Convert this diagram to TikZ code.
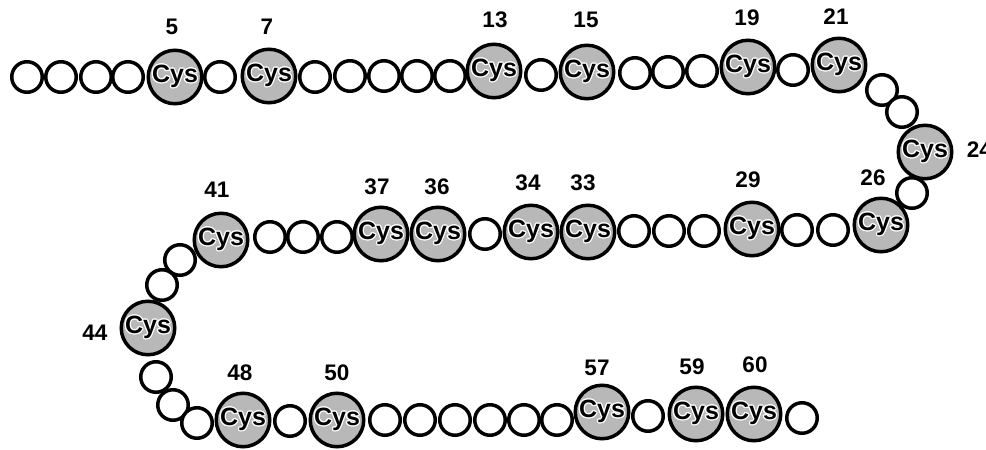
\documentclass[tikz,border=0pt]{standalone}
\usepackage{fontspec}
\setmainfont{Liberation Sans}
\usepackage{contour}
\contourlength{1.2pt}

\begin{document}
\begin{tikzpicture}[x=1pt, y=-1pt, line width=3.5pt,
    res/.style={circle, draw, fill=white, minimum size=30.5pt, inner sep=0pt},
    cys/.style={circle, draw, fill=black!28, minimum size=53.5pt, inner sep=0pt,
      font=\fontsize{25}{25}\selectfont\bfseries},
    num/.style={font=\fontsize{22.5}{22.5}\selectfont\bfseries, inner sep=0pt}]
  \useasboundingbox (0,0) rectangle (986,450);
  % plain residues
  \foreach \n/\x/\y in {1/27/77, 2/61/77, 3/96/77, 4/128/77, 6/220/77,
      8/315/77, 9/350/76, 10/384/76, 11/417/76, 12/450/76, 14/541/75,
      16/635/73, 17/668/72, 18/702/71, 20/793/70, 22/882/90, 23/902/112,
      25/912/193, 27/833/230, 28/797/230, 30/704/231, 31/669/231, 32/634/231,
      35/485/234, 38/337/237, 39/303/237, 40/270/237, 42/180/260, 43/162/285,
      45/156/377, 46/173/405, 47/197/423, 49/290/421, 51/385/420, 52/420/420,
      53/455/420, 54/490/420, 55/524/420, 56/557/420, 58/648/416, 61/802/418}
    \node[res] (r\n) at (\x,\y) {};
  % cysteines
  \foreach \n/\x/\y in {5/175/77, 7/269/76, 13/494/71, 15/587/72, 19/748/67,
      21/839/65, 24/925/152, 26/881/225, 29/752/229, 33/588/232, 34/531/232,
      36/438/234, 37/381/234, 41/221/240, 44/148/328, 48/243/420, 50/337/420,
      57/602/412, 59/696/414, 60/754/414}
    \node[cys] (r\n) at (\x,\y) {\contour{white}{Cys}};
  % residue numbers
  \foreach \n/\x/\y in {5/172/27, 7/267/27, 13/495/20, 15/586/20, 19/747/18,
      21/836/17, 26/873/178, 29/748/180, 33/583/183, 34/528/183, 36/437/187,
      37/377/187, 41/217/190, 44/95/333, 48/240/373, 50/337/373, 57/597/368,
      59/692/367, 60/755/365}
    \node[num] (l\n) at (\x,\y) {\n};
  \node[num, anchor=west] (l24) at (965,150) {24};
\end{tikzpicture}
\end{document}
